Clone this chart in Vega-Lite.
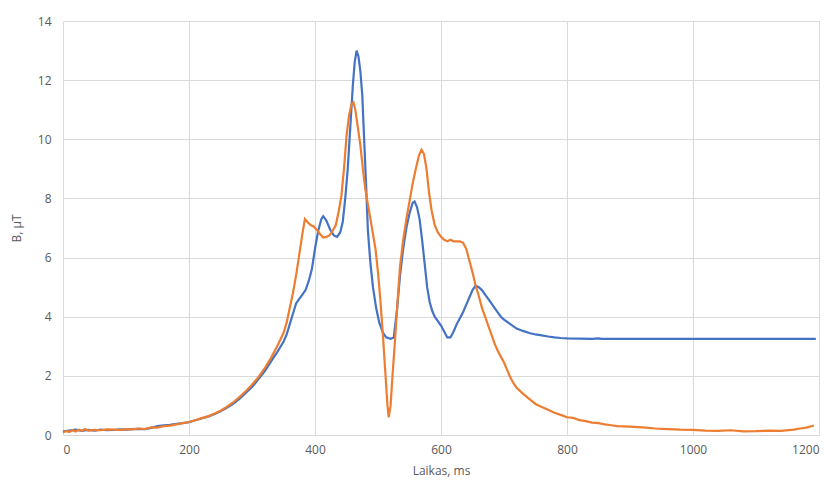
{
  "$schema": "https://vega.github.io/schema/vega-lite/v6.json",
  "width": 756,
  "height": 414,
  "autosize": {"type": "none"},
  "padding": {"left": 63, "top": 21, "right": 18, "bottom": 53},
  "background": "white",
  "config": {
    "view": {"stroke": null},
    "font": "Open Sans",
    "axis": {"labelFont": "Open Sans", "titleFont": "Open Sans", "labelColor": "#595959", "titleColor": "#595959", "labelFontSize": 12, "titleFontSize": 12, "titleFontWeight": "normal", "gridColor": "#d9d9d9", "gridWidth": 1, "domain": false, "ticks": false}
  },
  "datasets": {
    "blue": [
      {"t":0,"b":0.12},{"t":10,"b":0.15},{"t":20,"b":0.18},{"t":30,"b":0.14},{"t":40,"b":0.17},{"t":50,"b":0.15},{"t":60,"b":0.18},{"t":70,"b":0.16},{"t":80,"b":0.17},{"t":90,"b":0.19},{"t":100,"b":0.18},{"t":110,"b":0.2},{"t":120,"b":0.21},{"t":130,"b":0.2},{"t":140,"b":0.24},{"t":150,"b":0.3},{"t":160,"b":0.33},{"t":170,"b":0.34},{"t":180,"b":0.38},{"t":190,"b":0.4},{"t":200,"b":0.43},{"t":210,"b":0.5},{"t":220,"b":0.56},{"t":230,"b":0.62},{"t":240,"b":0.7},{"t":250,"b":0.8},{"t":260,"b":0.92},{"t":270,"b":1.05},{"t":280,"b":1.22},{"t":290,"b":1.42},{"t":300,"b":1.62},{"t":310,"b":1.88},{"t":320,"b":2.15},{"t":330,"b":2.48},{"t":340,"b":2.8},{"t":350,"b":3.15},{"t":355,"b":3.4},{"t":360,"b":3.75},{"t":365,"b":4.1},{"t":370,"b":4.45},{"t":375,"b":4.6},{"t":380,"b":4.75},{"t":385,"b":4.9},{"t":390,"b":5.2},{"t":395,"b":5.6},{"t":400,"b":6.3},{"t":405,"b":6.9},{"t":410,"b":7.3},{"t":413,"b":7.4},{"t":418,"b":7.25},{"t":424,"b":6.95},{"t":430,"b":6.75},{"t":435,"b":6.7},{"t":440,"b":6.85},{"t":444,"b":7.2},{"t":448,"b":8.0},{"t":452,"b":9.0},{"t":456,"b":10.4},{"t":460,"b":11.8},{"t":463,"b":12.6},{"t":466,"b":13.0},{"t":469,"b":12.8},{"t":472,"b":12.3},{"t":475,"b":11.5},{"t":478,"b":10.0},{"t":481,"b":8.5},{"t":484,"b":6.9},{"t":488,"b":5.8},{"t":492,"b":5.0},{"t":497,"b":4.3},{"t":502,"b":3.8},{"t":508,"b":3.45},{"t":513,"b":3.3},{"t":520,"b":3.25},{"t":525,"b":3.3},{"t":530,"b":4.2},{"t":535,"b":5.4},{"t":540,"b":6.3},{"t":545,"b":7.0},{"t":550,"b":7.5},{"t":555,"b":7.85},{"t":558,"b":7.9},{"t":562,"b":7.7},{"t":566,"b":7.3},{"t":570,"b":6.6},{"t":574,"b":5.8},{"t":578,"b":5.0},{"t":582,"b":4.5},{"t":586,"b":4.2},{"t":590,"b":4.0},{"t":595,"b":3.85},{"t":600,"b":3.7},{"t":605,"b":3.5},{"t":610,"b":3.3},{"t":615,"b":3.3},{"t":620,"b":3.5},{"t":625,"b":3.75},{"t":630,"b":3.95},{"t":635,"b":4.15},{"t":640,"b":4.4},{"t":645,"b":4.65},{"t":650,"b":4.9},{"t":655,"b":5.05},{"t":660,"b":5.0},{"t":665,"b":4.9},{"t":670,"b":4.75},{"t":675,"b":4.6},{"t":680,"b":4.45},{"t":685,"b":4.3},{"t":690,"b":4.15},{"t":695,"b":4.0},{"t":700,"b":3.9},{"t":710,"b":3.75},{"t":720,"b":3.6},{"t":730,"b":3.52},{"t":740,"b":3.45},{"t":750,"b":3.4},{"t":760,"b":3.37},{"t":770,"b":3.33},{"t":780,"b":3.3},{"t":790,"b":3.28},{"t":800,"b":3.27},{"t":820,"b":3.26},{"t":840,"b":3.25},{"t":850,"b":3.27},{"t":855,"b":3.25},{"t":900,"b":3.25},{"t":1000,"b":3.25},{"t":1100,"b":3.25},{"t":1195,"b":3.25}
    ],
    "orange": [
      {"t":0,"b":0.08},{"t":5,"b":0.14},{"t":10,"b":0.1},{"t":15,"b":0.16},{"t":20,"b":0.12},{"t":25,"b":0.18},{"t":30,"b":0.14},{"t":35,"b":0.2},{"t":40,"b":0.15},{"t":50,"b":0.17},{"t":60,"b":0.16},{"t":70,"b":0.19},{"t":80,"b":0.18},{"t":90,"b":0.17},{"t":100,"b":0.2},{"t":110,"b":0.19},{"t":120,"b":0.22},{"t":130,"b":0.2},{"t":140,"b":0.26},{"t":150,"b":0.25},{"t":160,"b":0.3},{"t":170,"b":0.32},{"t":180,"b":0.36},{"t":190,"b":0.4},{"t":200,"b":0.44},{"t":210,"b":0.5},{"t":220,"b":0.57},{"t":230,"b":0.63},{"t":240,"b":0.72},{"t":250,"b":0.82},{"t":260,"b":0.95},{"t":270,"b":1.1},{"t":280,"b":1.28},{"t":290,"b":1.48},{"t":300,"b":1.7},{"t":310,"b":1.95},{"t":320,"b":2.25},{"t":330,"b":2.6},{"t":340,"b":3.0},{"t":350,"b":3.45},{"t":355,"b":3.8},{"t":360,"b":4.3},{"t":365,"b":4.8},{"t":370,"b":5.4},{"t":375,"b":6.1},{"t":380,"b":6.8},{"t":384,"b":7.3},{"t":388,"b":7.2},{"t":393,"b":7.1},{"t":398,"b":7.05},{"t":403,"b":6.93},{"t":408,"b":6.8},{"t":413,"b":6.68},{"t":418,"b":6.7},{"t":423,"b":6.75},{"t":428,"b":6.9},{"t":433,"b":7.1},{"t":438,"b":7.6},{"t":442,"b":8.1},{"t":446,"b":9.0},{"t":450,"b":10.1},{"t":454,"b":10.8},{"t":458,"b":11.2},{"t":461,"b":11.25},{"t":464,"b":11.0},{"t":468,"b":10.4},{"t":472,"b":9.8},{"t":476,"b":9.0},{"t":480,"b":8.3},{"t":484,"b":7.8},{"t":488,"b":7.3},{"t":492,"b":6.8},{"t":496,"b":6.3},{"t":500,"b":5.5},{"t":504,"b":4.5},{"t":508,"b":3.3},{"t":512,"b":2.0},{"t":515,"b":1.0},{"t":517,"b":0.6},{"t":520,"b":1.0},{"t":523,"b":2.0},{"t":527,"b":3.2},{"t":531,"b":4.5},{"t":535,"b":5.7},{"t":540,"b":6.6},{"t":545,"b":7.3},{"t":550,"b":7.9},{"t":555,"b":8.5},{"t":560,"b":9.0},{"t":565,"b":9.45},{"t":569,"b":9.65},{"t":573,"b":9.5},{"t":577,"b":9.0},{"t":581,"b":8.2},{"t":585,"b":7.6},{"t":590,"b":7.1},{"t":595,"b":6.85},{"t":600,"b":6.7},{"t":605,"b":6.6},{"t":610,"b":6.55},{"t":615,"b":6.6},{"t":620,"b":6.55},{"t":625,"b":6.55},{"t":630,"b":6.55},{"t":635,"b":6.5},{"t":640,"b":6.3},{"t":645,"b":5.9},{"t":650,"b":5.5},{"t":655,"b":5.05},{"t":660,"b":4.7},{"t":665,"b":4.3},{"t":670,"b":4.0},{"t":675,"b":3.7},{"t":680,"b":3.4},{"t":685,"b":3.1},{"t":690,"b":2.85},{"t":695,"b":2.65},{"t":700,"b":2.45},{"t":705,"b":2.2},{"t":710,"b":1.95},{"t":715,"b":1.75},{"t":720,"b":1.6},{"t":725,"b":1.5},{"t":730,"b":1.4},{"t":740,"b":1.22},{"t":750,"b":1.05},{"t":760,"b":0.95},{"t":770,"b":0.85},{"t":780,"b":0.75},{"t":790,"b":0.68},{"t":800,"b":0.6},{"t":810,"b":0.58},{"t":820,"b":0.5},{"t":830,"b":0.47},{"t":840,"b":0.42},{"t":850,"b":0.4},{"t":860,"b":0.36},{"t":870,"b":0.33},{"t":880,"b":0.3},{"t":890,"b":0.29},{"t":900,"b":0.28},{"t":920,"b":0.26},{"t":940,"b":0.22},{"t":960,"b":0.2},{"t":980,"b":0.18},{"t":1000,"b":0.17},{"t":1020,"b":0.15},{"t":1040,"b":0.14},{"t":1060,"b":0.16},{"t":1080,"b":0.12},{"t":1100,"b":0.13},{"t":1120,"b":0.15},{"t":1140,"b":0.14},{"t":1160,"b":0.18},{"t":1170,"b":0.22},{"t":1180,"b":0.25},{"t":1192,"b":0.32}
    ]
  },
  "encoding": {
    "x": {"field": "t", "type": "quantitative", "scale": {"domain": [0, 1200], "nice": false}, "axis": {"title": "Laikas, ms", "values": [0, 200, 400, 600, 800, 1000, 1200], "format": "d", "labelPadding": 9, "titlePadding": 10}},
    "y": {"field": "b", "type": "quantitative", "scale": {"domain": [0, 14], "nice": false}, "axis": {"title": "B, μT", "values": [0, 2, 4, 6, 8, 10, 12, 14], "format": "d", "labelPadding": 12, "titlePadding": 14}}
  },
  "layer": [
    {"data": {"name": "blue"}, "mark": {"type": "line", "color": "#4472C4", "strokeWidth": 2.2}},
    {"data": {"name": "orange"}, "mark": {"type": "line", "color": "#ED7D31", "strokeWidth": 2.2}}
  ]
}
